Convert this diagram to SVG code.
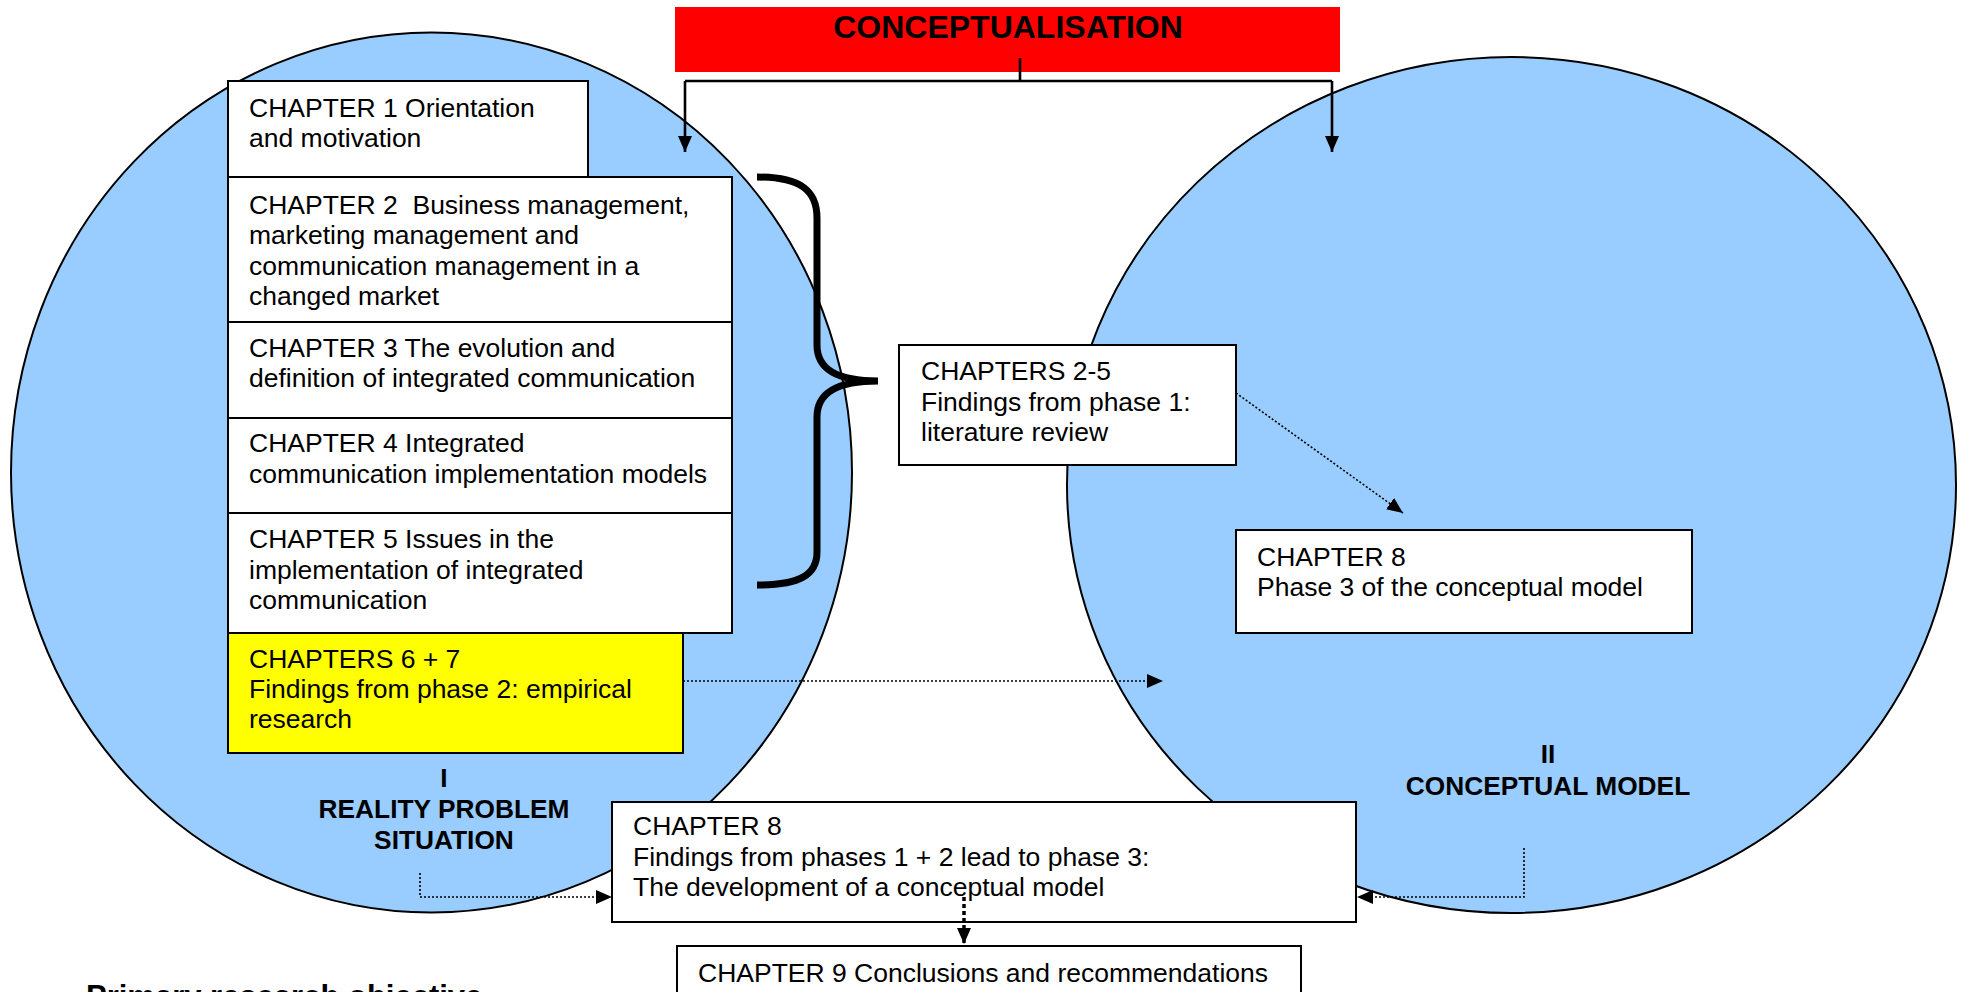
<svg xmlns="http://www.w3.org/2000/svg" width="1961" height="992" viewBox="0 0 1961 992">
<defs>
<style>
.ell{fill:#99CCFF;stroke:#000;stroke-width:2}
.box{fill:#fff;stroke:#000;stroke-width:2}
.t{font-family:"Liberation Sans",Arial,sans-serif;font-size:26.5px;fill:#000}
.b{font-family:"Liberation Sans",Arial,sans-serif;font-size:26.3px;font-weight:bold;fill:#000;text-anchor:middle}
.solid{fill:none;stroke:#000;stroke-width:2.6}
.dot{fill:none;stroke:#000;stroke-width:1.6;stroke-dasharray:2 2}
.dotb{fill:none;stroke:#000;stroke-width:3.5;stroke-dasharray:4 3}
</style>
<marker id="ah" viewBox="0 0 16 14" refX="16" refY="7" markerWidth="16" markerHeight="14" markerUnits="userSpaceOnUse" orient="auto">
<path d="M0,0 L16,7 L0,14 z" fill="#000"/>
</marker>
</defs>
<rect width="1961" height="992" fill="#fff"/>
<g id="circle-reality">
<ellipse class="ell" cx="431.5" cy="472.5" rx="420.5" ry="440"/>
<text class="b" x="444" y="787">I</text>
<text class="b" x="444" y="818">REALITY PROBLEM</text>
<text class="b" x="444" y="849">SITUATION</text>
</g>
<g id="circle-conceptual">
<ellipse class="ell" cx="1511.5" cy="485" rx="444.5" ry="428"/>
<text class="b" x="1548" y="763">II</text>
<text class="b" x="1548" y="795">CONCEPTUAL MODEL</text>
</g>
<g id="conceptualisation">
<rect x="675" y="7" width="665" height="65" fill="#FF0000"/>
<text class="b" x="1008" y="38" style="font-size:32px">CONCEPTUALISATION</text>
</g>
<g id="ch1">
<rect class="box" x="228" y="81" width="360" height="96"/>
<text class="t" x="249" y="117">CHAPTER 1 Orientation</text>
<text class="t" x="249" y="147">and motivation</text>
</g>
<g id="ch2">
<rect class="box" x="228" y="177" width="504" height="145"/>
<text class="t" x="249" y="214">CHAPTER 2&#160; Business management,</text>
<text class="t" x="249" y="244">marketing management and</text>
<text class="t" x="249" y="275">communication management in a</text>
<text class="t" x="249" y="305">changed market</text>
</g>
<g id="ch3">
<rect class="box" x="228" y="322" width="504" height="96"/>
<text class="t" x="249" y="357">CHAPTER 3 The evolution and</text>
<text class="t" x="249" y="387">definition of integrated communication</text>
</g>
<g id="ch4">
<rect class="box" x="228" y="418" width="504" height="95"/>
<text class="t" x="249" y="452">CHAPTER 4 Integrated</text>
<text class="t" x="249" y="483">communication implementation models</text>
</g>
<g id="ch5">
<rect class="box" x="228" y="513" width="504" height="120"/>
<text class="t" x="249" y="548">CHAPTER 5 Issues in the</text>
<text class="t" x="249" y="579">implementation of integrated</text>
<text class="t" x="249" y="609">communication</text>
</g>
<g id="ch6-7">
<rect x="228" y="633" width="455" height="120" fill="#FFFF00" stroke="#000" stroke-width="2"/>
<text class="t" x="249" y="668">CHAPTERS 6 + 7</text>
<text class="t" x="249" y="698">Findings from phase 2: empirical</text>
<text class="t" x="249" y="728">research</text>
</g>
<g id="brace">
<path d="M757,177 C800,177 817,190 817,218 L817,345 C817,370 838,381 878,381 C838,381 817,392 817,417 L817,552 C817,575 800,585 757,585" fill="none" stroke="#000" stroke-width="7"/>
</g>
<g id="ch2-5">
<rect class="box" x="899" y="345" width="337" height="120"/>
<text class="t" x="921" y="380">CHAPTERS 2-5</text>
<text class="t" x="921" y="411">Findings from phase 1:</text>
<text class="t" x="921" y="441">literature review</text>
</g>
<g id="ch8-phase3">
<rect class="box" x="1236" y="530" width="456" height="103"/>
<text class="t" x="1257" y="566">CHAPTER 8</text>
<text class="t" x="1257" y="596">Phase 3 of the conceptual model</text>
</g>
<g id="ch8-development">
<rect class="box" x="612" y="802" width="744" height="120"/>
<text class="t" x="633" y="835">CHAPTER 8</text>
<text class="t" x="633" y="866">Findings from phases 1 + 2 lead to phase 3:</text>
<text class="t" x="633" y="896">The development of a conceptual model</text>
</g>
<g id="ch9">
<rect class="box" x="677" y="946" width="624" height="60"/>
<text class="t" x="698" y="982">CHAPTER 9 Conclusions and recommendations</text>
</g>
<g id="objective">
<text class="t" x="86" y="1007" style="font-size:31px;font-weight:bold">Primary research objective</text>
</g>
<g id="connectors">
<path class="solid" d="M1020,58 L1020,81"/>
<path class="solid" d="M685,81 L1332,81"/>
<path class="solid" d="M685,81 L685,152" marker-end="url(#ah)"/>
<path class="solid" d="M1332,81 L1332,152" marker-end="url(#ah)"/>
<path class="dot" d="M1236,393 L1403,513" marker-end="url(#ah)"/>
<path class="dot" d="M683,681 L1163,681" marker-end="url(#ah)"/>
<path class="dot" d="M420,873 L420,897 L612,897" marker-end="url(#ah)"/>
<path class="dot" d="M1524,848 L1524,897 L1357,897" marker-end="url(#ah)"/>
<path class="dotb" d="M964,897 L964,944" marker-end="url(#ah)"/>
</g>
</svg>
